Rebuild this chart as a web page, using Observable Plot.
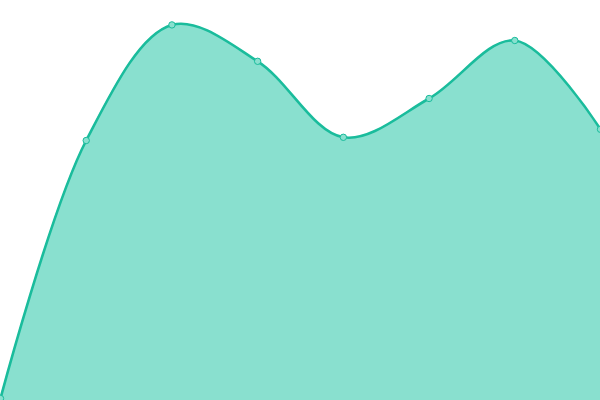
<!DOCTYPE html>
<html>
<head>
<meta charset="utf-8">
<script src="https://cdn.jsdelivr.net/npm/d3@7"></script>
<script src="https://cdn.jsdelivr.net/npm/@observablehq/plot@0.6"></script>
<style>
html,body{margin:0;padding:0;background:#fff;}
</style>
</head>
<body>
<div id="chart"></div>
<script>
const xs = [0, 1, 2, 3, 4, 5, 6, 7];
const values = [0.5, 65, 93.9, 84.8, 65.8, 75.5, 90, 67.8];
const data = xs.map((x, i) => ({x, y: values[i]}));
const stroke = "#1abc9c";
const fill = "#89e0cf";
const chart = Plot.plot({
  width: 600,
  height: 400,
  margin: 0,
  x: {domain: [0, 7], axis: null},
  y: {domain: [0, 100], axis: null},
  marks: [
    Plot.areaY(data, {x: "x", y: "y", curve: "catmull-rom", fill: fill}),
    Plot.lineY(data, {x: "x", y: "y", curve: "catmull-rom", stroke: stroke, strokeWidth: 2.6}),
    Plot.dot(data, {x: "x", y: "y", r: 3.2, fill: fill, stroke: stroke, strokeWidth: 1})
  ]
});
document.getElementById("chart").appendChild(chart);
</script>
</body>
</html>
